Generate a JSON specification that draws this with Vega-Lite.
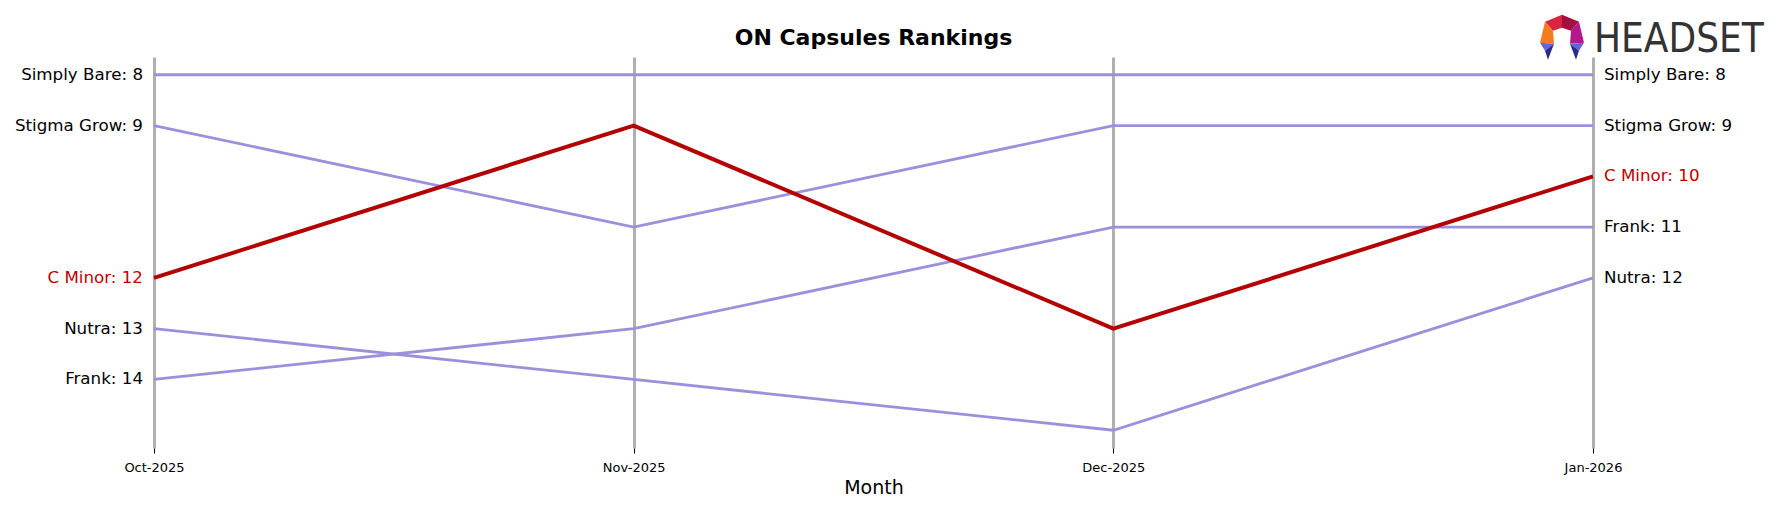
{
  "$schema": "https://vega.github.io/schema/vega-lite/v6.json",
  "width": 1439,
  "height": 391,
  "autosize": {"type": "none"},
  "padding": {"left": 154, "top": 57, "right": 183, "bottom": 59},
  "background": "white",
  "config": {"font": "DejaVu Sans", "view": {"stroke": null}},
  "title": {"text": "ON Capsules Rankings", "fontSize": 22, "fontWeight": "bold", "font": "DejaVu Sans", "color": "black", "anchor": "middle", "offset": -35},
  "data": {"values": [
    {"brand": "Simply Bare", "month": "Oct-2025", "rank": 8},
    {"brand": "Simply Bare", "month": "Nov-2025", "rank": 8},
    {"brand": "Simply Bare", "month": "Dec-2025", "rank": 8},
    {"brand": "Simply Bare", "month": "Jan-2026", "rank": 8},
    {"brand": "Stigma Grow", "month": "Oct-2025", "rank": 9},
    {"brand": "Stigma Grow", "month": "Nov-2025", "rank": 11},
    {"brand": "Stigma Grow", "month": "Dec-2025", "rank": 9},
    {"brand": "Stigma Grow", "month": "Jan-2026", "rank": 9},
    {"brand": "C Minor", "month": "Oct-2025", "rank": 12},
    {"brand": "C Minor", "month": "Nov-2025", "rank": 9},
    {"brand": "C Minor", "month": "Dec-2025", "rank": 13},
    {"brand": "C Minor", "month": "Jan-2026", "rank": 10},
    {"brand": "Nutra", "month": "Oct-2025", "rank": 13},
    {"brand": "Nutra", "month": "Nov-2025", "rank": 14},
    {"brand": "Nutra", "month": "Dec-2025", "rank": 15},
    {"brand": "Nutra", "month": "Jan-2026", "rank": 12},
    {"brand": "Frank", "month": "Oct-2025", "rank": 14},
    {"brand": "Frank", "month": "Nov-2025", "rank": 13},
    {"brand": "Frank", "month": "Dec-2025", "rank": 11},
    {"brand": "Frank", "month": "Jan-2026", "rank": 11}
  ]},
  "encoding": {
    "x": {
      "field": "month", "type": "ordinal",
      "sort": ["Oct-2025", "Nov-2025", "Dec-2025", "Jan-2026"],
      "scale": {"type": "point", "padding": 0},
      "axis": {"title": "Month", "titleFontSize": 19, "titleFontWeight": "normal", "titleColor": "black", "titlePadding": 4,
               "labelFontSize": 13, "labelColor": "black", "labelAngle": 0, "labelPadding": 8,
               "grid": true, "gridColor": "#b0b0b0", "gridWidth": 3, "domain": false,
               "ticks": true, "tickColor": "black", "tickSize": 5, "tickWidth": 1}
    },
    "y": {"field": "rank", "type": "quantitative", "scale": {"domain": [7.65, 15.35], "reverse": true, "nice": false, "zero": false}, "axis": null}
  },
  "layer": [
    {
      "transform": [{"filter": "datum.brand !== 'C Minor'"}],
      "mark": {"type": "line", "color": "#9d8fdb", "strokeWidth": 2.8},
      "encoding": {"detail": {"field": "brand"}}
    },
    {
      "transform": [{"filter": "datum.brand === 'C Minor'"}],
      "mark": {"type": "line", "color": "#b30000", "strokeWidth": 4},
      "encoding": {}
    },
    {
      "transform": [{"filter": "datum.month === 'Oct-2025'"}, {"calculate": "datum.brand + ': ' + datum.rank", "as": "label"}],
      "mark": {"type": "text", "align": "right", "baseline": "middle", "dx": -11, "fontSize": 16.7},
      "encoding": {
        "text": {"field": "label"},
        "color": {"condition": {"test": "datum.brand === 'C Minor'", "value": "#c00000"}, "value": "black"}
      }
    },
    {
      "transform": [{"filter": "datum.month === 'Jan-2026'"}, {"calculate": "datum.brand + ': ' + datum.rank", "as": "label"}],
      "mark": {"type": "text", "align": "left", "baseline": "middle", "dx": 11, "fontSize": 16.7},
      "encoding": {
        "text": {"field": "label"},
        "color": {"condition": {"test": "datum.brand === 'C Minor'", "value": "#c00000"}, "value": "black"}
      }
    },
    {
      "transform": [{"filter": "datum.month === 'Jan-2026' && datum.brand === 'Simply Bare'"}],
      "mark": {"type": "text", "align": "left", "baseline": "middle", "dx": 1, "dy": -35, "fontSize": 40, "font": "DejaVu Sans Condensed", "color": "#333333", "text": "HEADSET", "clip": false}
    },
    {
      "transform": [{"filter": "datum.month === 'Jan-2026' && datum.brand === 'Simply Bare'"}],
      "mark": {"type": "point", "filled": true, "opacity": 1, "strokeWidth": 0, "size": 2116, "xOffset": -31, "yOffset": -37.5, "color": "#d7263d",
               "shape": "M0,-0.978 L-0.739,-0.674 L-0.391,-0.283 L0,-0.413 Z"}
    },
    {
      "transform": [{"filter": "datum.month === 'Jan-2026' && datum.brand === 'Simply Bare'"}],
      "mark": {"type": "point", "filled": true, "opacity": 1, "strokeWidth": 0, "size": 2116, "xOffset": -31, "yOffset": -37.5, "color": "#a3103f",
               "shape": "M0,-0.978 L0.739,-0.674 L0.391,-0.283 L0,-0.413 Z"}
    },
    {
      "transform": [{"filter": "datum.month === 'Jan-2026' && datum.brand === 'Simply Bare'"}],
      "mark": {"type": "point", "filled": true, "opacity": 1, "strokeWidth": 0, "size": 2116, "xOffset": -31, "yOffset": -37.5, "color": "#f47b20",
               "shape": "M-0.739,-0.674 L-0.957,0.239 L-0.348,0.283 L-0.391,-0.283 Z"}
    },
    {
      "transform": [{"filter": "datum.month === 'Jan-2026' && datum.brand === 'Simply Bare'"}],
      "mark": {"type": "point", "filled": true, "opacity": 1, "strokeWidth": 0, "size": 2116, "xOffset": -31, "yOffset": -37.5, "color": "#b4198c",
               "shape": "M0.739,-0.674 L0.957,0.239 L0.348,0.283 L0.391,-0.283 Z"}
    },
    {
      "transform": [{"filter": "datum.month === 'Jan-2026' && datum.brand === 'Simply Bare'"}],
      "mark": {"type": "point", "filled": true, "opacity": 1, "strokeWidth": 0, "size": 2116, "xOffset": -31, "yOffset": -37.5, "color": "#6366d9",
               "shape": "M-0.957,0.239 L-0.348,0.283 L-0.739,0.587 Z M0.957,0.239 L0.348,0.283 L0.739,0.587 Z"}
    },
    {
      "transform": [{"filter": "datum.month === 'Jan-2026' && datum.brand === 'Simply Bare'"}],
      "mark": {"type": "point", "filled": true, "opacity": 1, "strokeWidth": 0, "size": 2116, "xOffset": -31, "yOffset": -37.5, "color": "#2a2c8c",
               "shape": "M-0.739,0.587 L-0.348,0.283 L-0.609,0.978 Z M0.739,0.587 L0.348,0.283 L0.609,0.978 Z"}
    }
  ]
}
